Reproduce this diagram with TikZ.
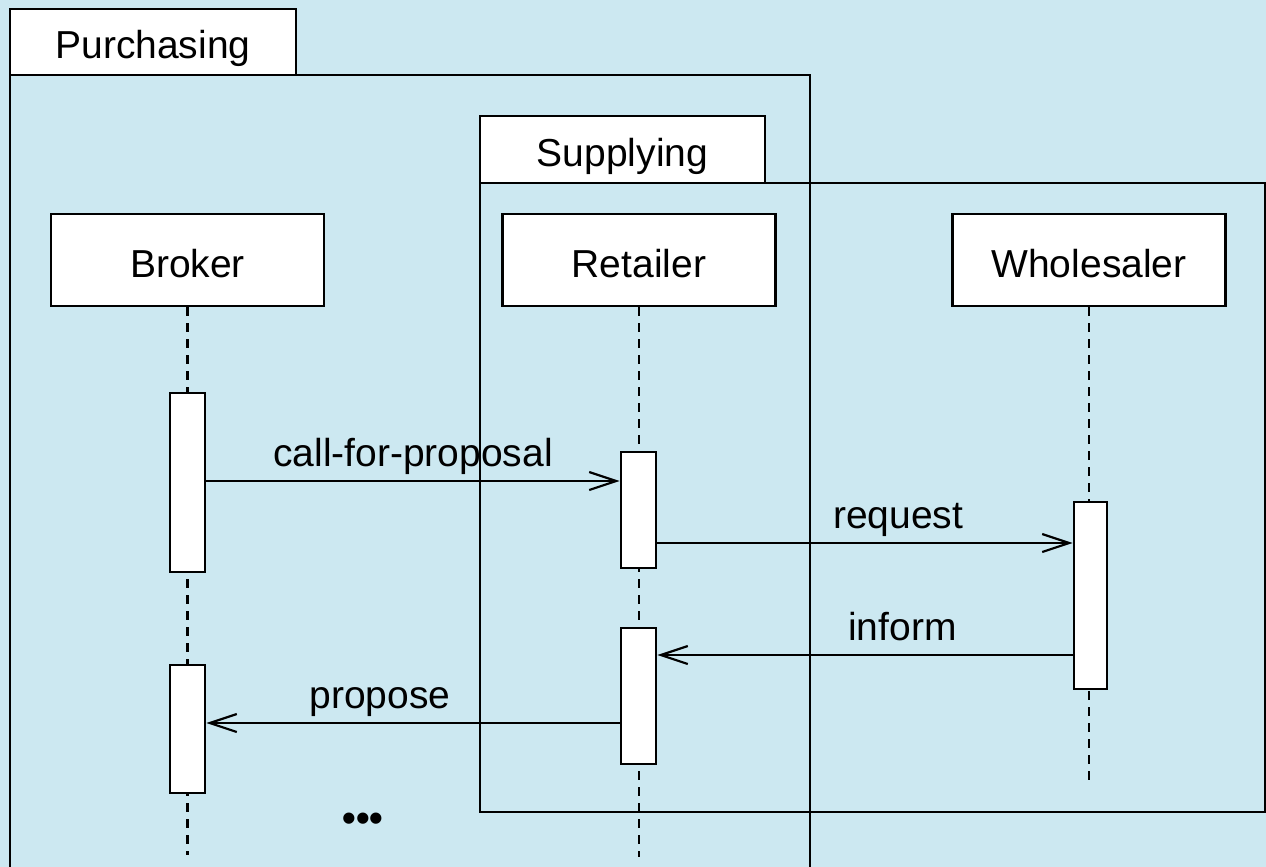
\documentclass[tikz,border=0pt]{standalone}
\usepackage{fontspec}
\setmainfont{Liberation Sans}
\usetikzlibrary{arrows.meta}
\definecolor{bgblue}{RGB}{204,232,241}

\begin{document}
\begin{tikzpicture}[x=1pt, y=-1pt]
    % Define styles
    \tikzset{
        labeltext/.style={font=\fontsize{39}{47}\selectfont},
        boxtext/.style={labeltext, text height=34pt, text depth=0pt},
        frametab/.style={boxtext, draw, fill=white, line width=2.4pt, inner sep=0pt},
        framebody/.style={draw, line width=2.4pt},
        headbox/.style={boxtext, draw, fill=white, line width=2.6pt, minimum width=273pt, minimum height=92pt, inner sep=0pt},
        actbox/.style={draw, fill=white, line width=2.6pt, minimum width=35pt, inner sep=0pt},
        lifeline/.style={line width=2.6pt, dash pattern=on 9pt off 7pt},
        msg/.style={line width=2.2pt, -{Straight Barb[length=27pt, width=18pt, line width=2.2pt]}},
        msglabel/.style={labeltext, text depth=9pt, inner sep=4pt}
    }

    % Background
    \fill[bgblue] (0,0) rectangle (1266,867);
    \useasboundingbox (0,0) rectangle (1266,867);
    \clip (0,0) rectangle (1266,867);

    % Frames
    \draw[framebody] (10,75) rectangle (810,890);
    \node[frametab, minimum width=286pt, minimum height=66pt] (purchasing) at (153,42) {Purchasing};
    \draw[framebody] (480,183) rectangle (1265,812);
    \node[frametab, minimum width=285pt, minimum height=67pt] (supplying) at (622.5,149.5) {Supplying};

    % Lifeline heads
    \node[headbox] (broker) at (187.5,260) {Broker};
    \node[headbox] (retailer) at (639,260) {Retailer};
    \node[headbox] (wholesaler) at (1089,260) {Wholesaler};

    % Lifelines
    \coordinate (brokerEnd) at (187.5,855);
    \coordinate (retailerEnd) at (639,857);
    \coordinate (wholesalerEnd) at (1089,780);
    \draw[lifeline] (broker.south) -- (brokerEnd);
    \draw[lifeline] (retailer.south) -- (retailerEnd);
    \draw[lifeline] (wholesaler.south) -- (wholesalerEnd);

    % Activations
    \node[actbox, minimum height=179pt] (brokerA) at (187.5,482.5) {};
    \node[actbox, minimum height=128pt] (brokerB) at (187.5,729) {};
    \node[actbox, minimum height=116pt] (retailerA) at (638.5,510) {};
    \node[actbox, minimum height=136pt] (retailerB) at (638.5,696) {};
    \node[actbox, minimum width=33pt, minimum height=187pt] (wholesalerA) at (1090.5,595.5) {};

    % Messages
    \coordinate (reqY) at (0,543);
    \coordinate (infY) at (0,655);
    \coordinate (propY) at (0,723);
    \draw[msg] (brokerA.east |- 0,481) -- (retailerA.west |- 0,481)
        node[msglabel, midway, above] {call-for-proposal};
    \draw[msg] (retailerA.east |- reqY) -- (wholesalerA.west |- reqY)
        node[msglabel, pos=0.58, above] {request};
    \draw[msg] (wholesalerA.west |- infY) -- (retailerB.east |- infY)
        node[msglabel, pos=0.41, above] {inform};
    \draw[msg] (retailerB.west |- propY) -- (brokerB.east |- propY)
        node[msglabel, pos=0.58, above] {propose};

    % Continuation
    \node[labeltext, font=\fontsize{39}{47}\selectfont\bfseries] (more) at (363,822) {•••};
\end{tikzpicture}
\end{document}
